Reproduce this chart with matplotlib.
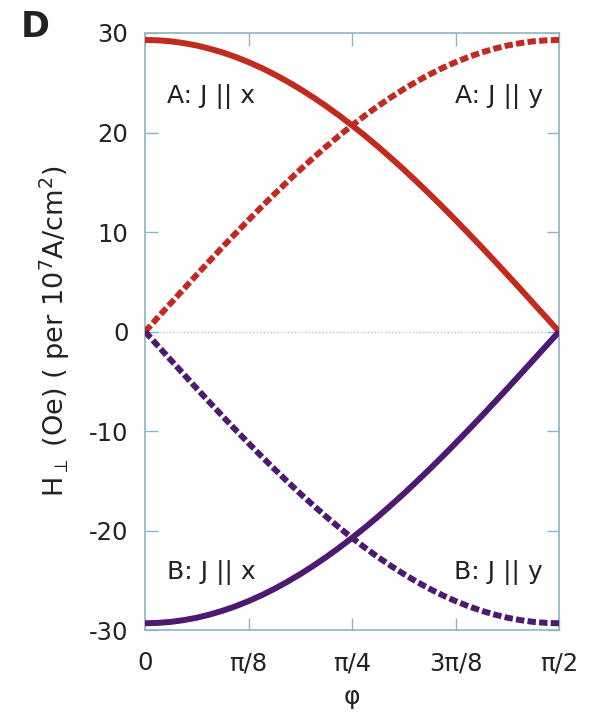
import numpy as np
import matplotlib.pyplot as plt

plt.rcParams['font.family'] = ['DejaVu Sans']
plt.rcParams['axes.unicode_minus'] = False

# Angle grid (in units of pi/64) and H_perp values for channel A, J || x
phi_steps = np.arange(33)
h_a_x = [29.30, 29.26, 29.16, 28.98, 28.74, 28.42, 28.04, 27.59, 27.07,
         26.49, 25.84, 25.13, 24.36, 23.53, 22.65, 21.71, 20.72,
         19.68, 18.59, 17.45, 16.28, 15.06, 13.81, 12.53, 11.21,
         9.87, 8.51, 7.12, 5.72, 4.30, 2.87, 1.44, 0.0]
# J || y mirrors J || x about pi/4, channel B has the opposite sign
h_a_y = h_a_x[::-1]
h_b_x = [-v for v in h_a_x]
h_b_y = [-v for v in h_a_y]

xtick_labels = ['0', 'π/8', 'π/4', '3π/8', 'π/2']
yticks = [-30, -20, -10, 0, 10, 20, 30]

red = '#c22a1f'
purple = '#4c1a70'
frame = '#8fb4c4'
ink = '#222222'

phi = phi_steps * np.pi / 64

fig = plt.figure(figsize=(6.07, 7.17), dpi=100)
ax = fig.add_axes([0.239, 0.121, 0.682, 0.833])

ax.axhline(0, color='#9cc8e0', lw=1.0, ls=(0, (1, 1.5)), zorder=1)

lw = 4.3
dash = (0, (1.4, 0.55))
ax.plot(phi, h_a_x, color=red, lw=lw, solid_capstyle='butt', zorder=3)
ax.plot(phi, h_a_y, color=red, lw=lw, ls=dash, zorder=3)
ax.plot(phi, h_b_x, color=purple, lw=lw, solid_capstyle='butt', zorder=3)
ax.plot(phi, h_b_y, color=purple, lw=lw, ls=dash, zorder=3)

ax.set_xlim(0, np.pi / 2)
ax.set_ylim(-30, 30)
ax.set_xticks(np.arange(5) * np.pi / 8)
ax.set_xticklabels(xtick_labels)
ax.set_yticks(yticks)
ax.tick_params(direction='in', length=9, width=1.0, color=frame,
               labelsize=17.5, labelcolor=ink, top=True, right=True)
ax.tick_params(axis='x', pad=15)
ax.tick_params(axis='y', pad=12)
for s in ax.spines.values():
    s.set_color(frame)
    s.set_linewidth(1.2)

ax.set_xlabel('φ', fontsize=18, color=ink, labelpad=7)
ax.set_ylabel(r'H$_\perp$ (Oe) ( per 10$^7$A/cm$^2$)', fontsize=19.5,
              color=ink, labelpad=12)

lab = dict(fontsize=18, color=ink, va='center')
ax.text(0.053, 0.893, 'A: J || x', transform=ax.transAxes, ha='left', **lab)
ax.text(0.961, 0.893, 'A: J || y', transform=ax.transAxes, ha='right', **lab)
ax.text(0.053, 0.097, 'B: J || x', transform=ax.transAxes, ha='left', **lab)
ax.text(0.961, 0.097, 'B: J || y', transform=ax.transAxes, ha='right', **lab)

fig.text(0.035, 0.962, 'D', fontsize=25, fontweight='bold', color=ink,
         ha='left', va='center')

fig.savefig('out.png', dpi=100, facecolor='white')
